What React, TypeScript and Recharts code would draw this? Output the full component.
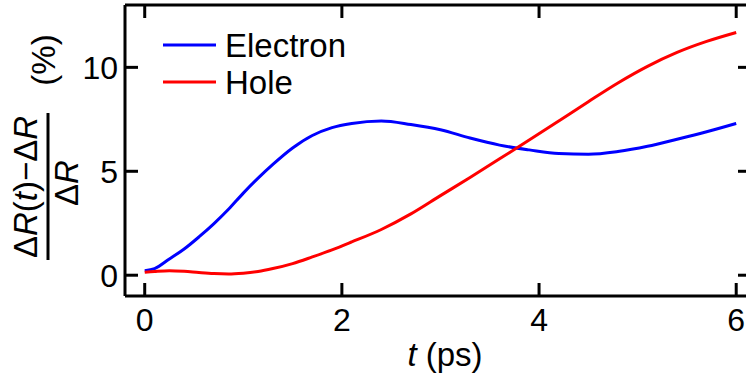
import { LineChart, Line, XAxis, YAxis, Legend } from "recharts";

const times = [0, 0.1, 0.25, 0.4, 0.55, 0.7, 0.85, 1.0, 1.15, 1.3, 1.5, 1.7, 1.9, 2.1, 2.4, 2.7, 3.0, 3.3, 3.6, 3.9, 4.2, 4.5, 4.8, 5.1, 5.4, 5.7, 6.0];
const electron = [0.22, 0.32, 0.78, 1.26, 1.84, 2.47, 3.17, 3.95, 4.67, 5.33, 6.12, 6.72, 7.1, 7.3, 7.42, 7.25, 7.0, 6.6, 6.26, 6.03, 5.85, 5.82, 5.95, 6.2, 6.54, 6.9, 7.3];
const hole = [0.14, 0.18, 0.22, 0.19, 0.13, 0.08, 0.06, 0.1, 0.18, 0.32, 0.56, 0.88, 1.22, 1.6, 2.2, 2.95, 3.83, 4.7, 5.6, 6.5, 7.42, 8.35, 9.25, 10.05, 10.72, 11.25, 11.68];

const xTicks = [0, 2, 4, 6];
const yTicks = [0, 5, 10];

const data = times.map((t, i) => ({ t, electron: electron[i], hole: hole[i] }));

const FONT = "'Liberation Sans', Arial, sans-serif";
const FS = 32;
const TICK = 13;
const INK = "#000";

function LeftTick({ x, y, payload }: any) {
  const ax = x + 7;
  return (
    <g>
      <line x1={ax} y1={y} x2={ax + TICK} y2={y} stroke={INK} strokeWidth={3} />
      <text x={x} y={y} dy="0.36em" textAnchor="end" fontFamily={FONT} fontSize={FS} fill={INK}>
        {payload.value}
      </text>
    </g>
  );
}

function RightTick({ x, y }: any) {
  return <line x1={x} y1={y} x2={x - TICK} y2={y} stroke={INK} strokeWidth={3} />;
}

function BottomTick({ x, y, payload }: any) {
  const ay = y - 12;
  return (
    <g>
      <line x1={x} y1={ay} x2={x} y2={ay - TICK} stroke={INK} strokeWidth={3} />
      <text x={x} y={y} dy="0.72em" textAnchor="middle" fontFamily={FONT} fontSize={FS} fill={INK}>
        {payload.value}
      </text>
    </g>
  );
}

function TopTick({ x, y }: any) {
  return <line x1={x} y1={y} x2={x} y2={y + TICK} stroke={INK} strokeWidth={3} />;
}

function YLabel() {
  return (
    <g transform="translate(48,187) rotate(-90)" fontFamily={FONT} fontSize={33} fill={INK}>
      <text x={0} y={-11} textAnchor="middle">
        Δ<tspan fontStyle="italic">R</tspan>(<tspan fontStyle="italic">t</tspan>)−Δ<tspan fontStyle="italic">R</tspan>
      </text>
      <line x1={-73} y1={0} x2={74} y2={0} stroke={INK} strokeWidth={3} />
      <text x={4} y={30} textAnchor="middle">
        Δ<tspan fontStyle="italic">R</tspan>
      </text>
      <text x={127} y={7} textAnchor="middle">(%)</text>
    </g>
  );
}

function XLabel() {
  return (
    <text x={445} y={366} textAnchor="middle" fontFamily={FONT} fontSize={33} fill={INK}>
      <tspan fontStyle="italic">t</tspan> (ps)
    </text>
  );
}

function LegendBox({ payload }: any) {
  return (
    <svg width={260} height={90} style={{ display: "block" }}>
      {(payload || []).map((p: any, i: number) => (
        <g key={p.value} transform={`translate(0,${25 + i * 37})`}>
          <line x1={13} y1={0} x2={66} y2={0} stroke={p.color} strokeWidth={3} />
          <text x={75} y={12} fontFamily={FONT} fontSize={33} fill={INK}>
            {p.value}
          </text>
        </g>
      ))}
    </svg>
  );
}

export default function App() {
  return (
    <div style={{ position: "absolute", left: 0, top: 0, width: 746, height: 375, overflow: "hidden", background: "#fff" }}>
      <LineChart width={760} height={375} data={data} margin={{ top: 0, right: 0, bottom: 0, left: 0 }}>
        <XAxis
          xAxisId="b"
          dataKey="t"
          type="number"
          domain={[-0.2, 6.15]}
          ticks={xTicks}
          allowDataOverflow
          height={79}
          tickSize={0}
          tickMargin={12}
          tickLine={false}
          axisLine={{ stroke: INK, strokeWidth: 3 }}
          tick={<BottomTick />}
          label={{ content: () => <XLabel /> }}
        />
        <XAxis
          xAxisId="top"
          orientation="top"
          dataKey="t"
          type="number"
          domain={[-0.2, 6.15]}
          ticks={xTicks}
          allowDataOverflow
          height={5}
          tickSize={0}
          tickMargin={0}
          tickLine={false}
          axisLine={{ stroke: INK, strokeWidth: 3 }}
          tick={<TopTick />}
        />
        <YAxis
          yAxisId="l"
          type="number"
          domain={[-1, 13]}
          ticks={yTicks}
          allowDataOverflow
          width={125}
          tickSize={0}
          tickMargin={7}
          tickLine={false}
          axisLine={{ stroke: INK, strokeWidth: 3 }}
          tick={<LeftTick />}
          label={{ content: () => <YLabel /> }}
        />
        <YAxis
          yAxisId="r"
          orientation="right"
          type="number"
          domain={[-1, 13]}
          ticks={yTicks}
          allowDataOverflow
          width={9}
          tickSize={0}
          tickMargin={0}
          tickLine={false}
          axisLine={{ stroke: INK, strokeWidth: 3 }}
          tick={<RightTick />}
        />
        <Legend
          layout="horizontal"
          verticalAlign="middle"
          align="center"
          content={<LegendBox />}
          wrapperStyle={{ position: "absolute", left: 150, top: 20, width: 260, height: 90 }}
        />
        <Line xAxisId="b" yAxisId="l" type="monotone" dataKey="electron" name="Electron" stroke="#0000ff" strokeWidth={3} dot={false} isAnimationActive={false} />
        <Line xAxisId="b" yAxisId="l" type="monotone" dataKey="hole" name="Hole" stroke="#ff0000" strokeWidth={3} dot={false} isAnimationActive={false} />
      </LineChart>
    </div>
  );
}
